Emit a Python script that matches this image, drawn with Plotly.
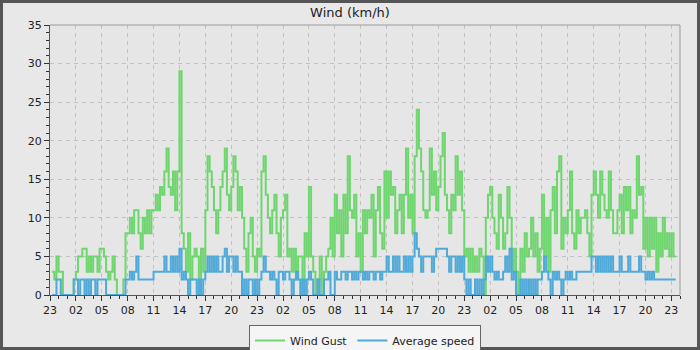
import plotly.graph_objects as go
import pandas as pd

# 15-minute samples starting 23:00 (km/h); None = no data yet
gust_rows = [
    [None, 3, 2, 5], [3, 3, 0, 0], [0, 0, 0, 2], [3, 5, 5, 6], [6, 3, 5, 3],
    [5, 5, 3, 6], [6, 5, 3, 2], [3, 5, 2, 0], [0, 0, 2, 8], [8, 10, 8, 11],
    [11, 8, 6, 10], [8, 11, 8, 11], [11, 13, 11, 14], [13, 16, 19, 14], [13, 16, 11, 16],
    [29, 8, 6, 3], [8, 2, 5, 6], [5, 0, 6, 3], [11, 18, 16, 14], [11, 8, 11, 14],
    [16, 19, 13, 11], [14, 18, 16, 11], [14, 10, 6, 3], [8, 10, 5, 3], [6, 5, 16, 18],
    [13, 10, 8, 11], [13, 8, 5, 10], [11, 13, 5, 6], [3, 6, 2, 5], [5, 0, 8, 5],
    [14, 5, 3, 0], [2, 5, 0, 3], [5, 6, 10, 5], [13, 8, 11, 5], [13, 8, 18, 11],
    [10, 13, 5, 8], [3, 11, 8, 11], [10, 13, 5, 11], [14, 8, 6, 16], [10, 16, 13, 14],
    [8, 11, 13, 8], [13, 19, 10, 13], [8, 18, 24, 19], [16, 11, 10, 11], [19, 13, 16, 11],
    [14, 18, 21, 13], [11, 8, 13, 11], [18, 13, 16, 11], [5, 6, 3, 6], [3, 5, 3, 6],
    [5, 0, 10, 13], [14, 10, 8, 6], [13, 10, 6, 8], [14, 10, 3, 6], [3, 0, 6, 3],
    [8, 5, 6, 10], [5, 8, 3, 6], [13, 5, 10, 3], [11, 14, 8, 16], [18, 6, 10, 8],
    [11, 16, 8, 6], [11, 8, 10, 10], [11, 8, 5, 13], [16, 13, 10, 16], [13, 11, 10, 16],
    [11, 8, 8, 11], [13, 8, 14, 11], [14, 8, 11, 10], [18, 13, 14, 6], [10, 5, 10, 6],
    [10, 3, 8, 5], [10, 6, 8, 5], [8, 5, 5, 5],
]
avg_rows = [
    [None, 0, 0, 2], [2, 0, 0, 0], [0, 0, 0, 2], [2, 0, 2, 2], [0, 2, 0, 2],
    [2, 0, 2, 2], [2, 2, 0, 0], [0, 0, 0, 0], [0, 0, 0, 2], [2, 3, 2, 3],
    [5, 2, 2, 2], [2, 2, 2, 2], [3, 3, 3, 3], [3, 5, 3, 3], [5, 3, 5, 3],
    [6, 2, 3, 2], [0, 2, 2, 2], [0, 2, 0, 2], [3, 5, 3, 5], [3, 5, 3, 3],
    [5, 6, 3, 5], [5, 3, 5, 3], [3, 0, 2, 0], [2, 2, 0, 2], [0, 2, 3, 5],
    [3, 3, 2, 3], [2, 0, 3, 3], [2, 3, 3, 2], [0, 2, 3, 2], [0, 2, 0, 2],
    [3, 2, 0, 0], [2, 0, 0, 2], [2, 3, 0, 0], [3, 2, 2, 3], [3, 2, 3, 3],
    [2, 3, 2, 3], [3, 2, 3, 2], [3, 3, 2, 3], [3, 2, 3, 3], [5, 3, 3, 5],
    [3, 5, 3, 3], [5, 3, 5, 3], [5, 8, 6, 5], [3, 5, 5, 5], [5, 3, 5, 6],
    [6, 6, 6, 6], [5, 3, 5, 5], [3, 5, 3, 5], [2, 0, 2, 0], [0, 2, 0, 2],
    [0, 2, 5, 3], [5, 3, 2, 3], [2, 2, 3, 5], [3, 6, 2, 3], [0, 0, 2, 0],
    [2, 0, 2, 0], [2, 0, 2, 2], [3, 5, 3, 2], [0, 3, 2, 3], [2, 0, 2, 3],
    [2, 3, 2, 2], [3, 3, 3, 3], [3, 3, 3, 5], [5, 3, 5, 3], [5, 3, 5, 3],
    [5, 3, 3, 3], [5, 3, 3, 3], [5, 3, 3, 3], [3, 5, 3, 3], [2, 3, 2, 3],
    [2, 2, 2, 2], [2, 2, 2, 2], [2, 2, 2, 2],
]
series_names = ["Wind Gust", "Average speed"]
series_colors = ["#6fd66f", "#4fa9d9"]
start = pd.Timestamp("2024-01-01 23:00")
end_hours = 73

gust = [v for r in gust_rows for v in r][:-1]
avg = [v for r in avg_rows for v in r][:-1]
times = [start + pd.Timedelta(minutes=15 * i) for i in range(len(gust))]

fig = go.Figure()
for name, vals, col in zip(series_names, [gust, avg], series_colors):
    fig.add_trace(go.Scatter(x=times, y=vals, name=name, mode="lines",
                             line=dict(color=col, width=2, shape="hv"),
                             connectgaps=False))

W, H = 700, 350
ml, mr, mt, mb = 50, 20, 25, 55
pw, ph = W - ml - mr, H - mt - mb

fig.update_layout(
    width=W, height=H,
    margin=dict(l=ml, r=mr, t=mt, b=mb, pad=0, autoexpand=False),
    paper_bgcolor="#e8e8e8", plot_bgcolor="#e6e6e6",
    font=dict(family="DejaVu Sans", size=11, color="#222"),
    title=dict(text="Wind (km/h)", x=0.5, xanchor="center", y=1 - 12 / H, yanchor="middle",
               font=dict(family="DejaVu Sans", size=13, color="#222")),
    showlegend=True,
    legend=dict(orientation="h", x=0.5, xanchor="center", y=-30 / ph, yanchor="top",
                bgcolor="#f5f5f5", bordercolor="#666", borderwidth=1,
                font=dict(size=11, color="#222"), itemwidth=30,
                tracegroupgap=0),
)
fig.update_xaxes(
    type="date",
    range=[start, start + pd.Timedelta(hours=end_hours)],
    tick0=start, dtick=3 * 3600 * 1000, tickformat="%H",
    showgrid=True, gridcolor="#c2c2c2", griddash="4px,4px", gridwidth=1,
    ticks="outside", ticklen=5, tickcolor="#333",
    minor=dict(dtick=3600 * 1000, ticks="outside", ticklen=3, tickcolor="#333", showgrid=False),
    showline=True, linecolor="#555", linewidth=1, zeroline=False,
    tickfont=dict(size=11, color="#222"),
)
fig.update_yaxes(
    range=[0, 35], dtick=5, tick0=0,
    showgrid=True, gridcolor="#c2c2c2", griddash="4px,4px", gridwidth=1,
    ticks="outside", ticklen=5, tickcolor="#333",
    minor=dict(dtick=1, ticks="outside", ticklen=3, tickcolor="#333", showgrid=False),
    showline=True, linecolor="#555", linewidth=1, zeroline=False,
    tickfont=dict(size=11, color="#222"),
)
# plot frame (top/right) and outer window border
fig.add_shape(type="path", xref="paper", yref="paper",
              path="M 0 1 L 1 1 L 1 0", line=dict(color="#9a9a9a", width=1))
fig.add_shape(type="rect", xref="paper", yref="paper",
              x0=-ml / pw, x1=1 + mr / pw, y0=-mb / ph, y1=1 + mt / ph,
              line=dict(color="#555", width=6))

fig.write_html("out.html")
